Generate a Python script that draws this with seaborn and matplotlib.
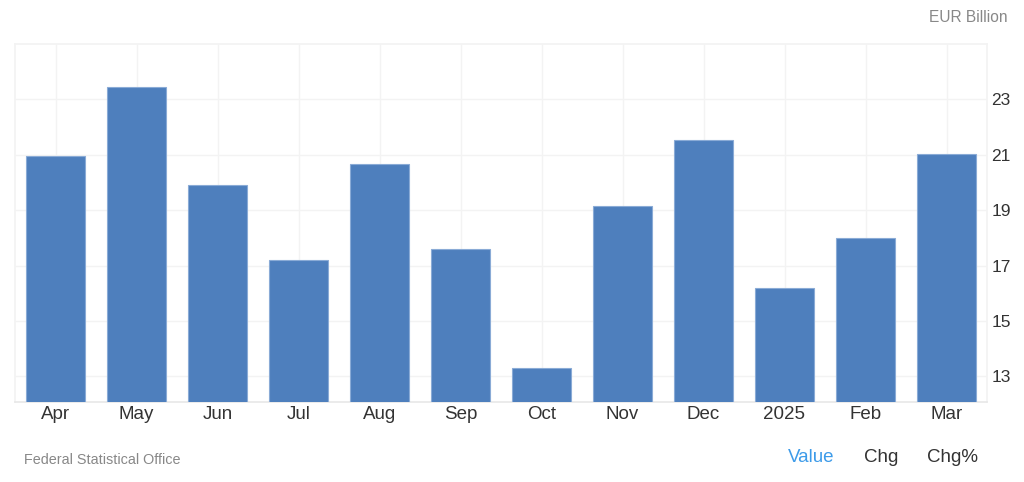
import matplotlib
matplotlib.use("Agg")
import matplotlib.pyplot as plt
import seaborn as sns
import pandas as pd

months = ["Apr", "May", "Jun", "Jul", "Aug", "Sep", "Oct", "Nov", "Dec", "2025", "Feb", "Mar"]
values = [20.95, 23.44, 19.89, 17.2, 20.66, 17.6, 13.28, 19.15, 21.55, 16.18, 17.99, 21.04]
yticks = [13, 15, 17, 19, 21, 23]

sns.set_theme(style="white")
plt.rcParams['font.family'] = ['Liberation Sans', 'DejaVu Sans']

df = pd.DataFrame({"month": months, "value": values})

fig = plt.figure(figsize=(10.24, 4.82), dpi=100)
ax = fig.add_axes([15/1024, 1 - 402/482, (987 - 15)/1024, (402 - 44)/482])

sns.barplot(data=df, x="month", y="value", color="#4e7fbd", saturation=1,
            width=0.74, edgecolor="#8aabd6", linewidth=0.8, ax=ax, zorder=3)

ax.set_ylim(12.07, 25)
ax.set_xlim(-0.5, len(months) - 0.5)
ax.set_yticks(yticks)
ax.yaxis.tick_right()
ax.set_xlabel("")
ax.set_ylabel("")
ax.grid(True, axis="both", color="#f3f3f3", linewidth=1, zorder=0)
ax.set_axisbelow(True)
for s in ["left", "top", "right"]:
    ax.spines[s].set_color("#f3f3f3")
ax.spines["bottom"].set_color("#e8e8e8")
ax.tick_params(axis="both", length=0, colors="#333333")
ax.tick_params(axis="y", pad=3, labelsize=12.5)
ax.tick_params(axis="x", pad=3, labelsize=13.5)

fig.text(1008/1024, 1 - 18/482, "EUR Billion", ha="right", va="center", fontsize=11.2, color="#888888")
fig.text(24/1024, 1 - 460/482, "Federal Statistical Office", ha="left", va="center", fontsize=10.4, color="#888888")
fig.text(811.5/1024, 1 - 458/482, "Value", ha="center", va="center", fontsize=13.5, color="#3d9be9")
fig.text(881.5/1024, 1 - 458/482, "Chg", ha="center", va="center", fontsize=13.5, color="#333333")
fig.text(952.5/1024, 1 - 458/482, "Chg%", ha="center", va="center", fontsize=13.5, color="#333333")

fig.savefig("out.png", dpi=100)
